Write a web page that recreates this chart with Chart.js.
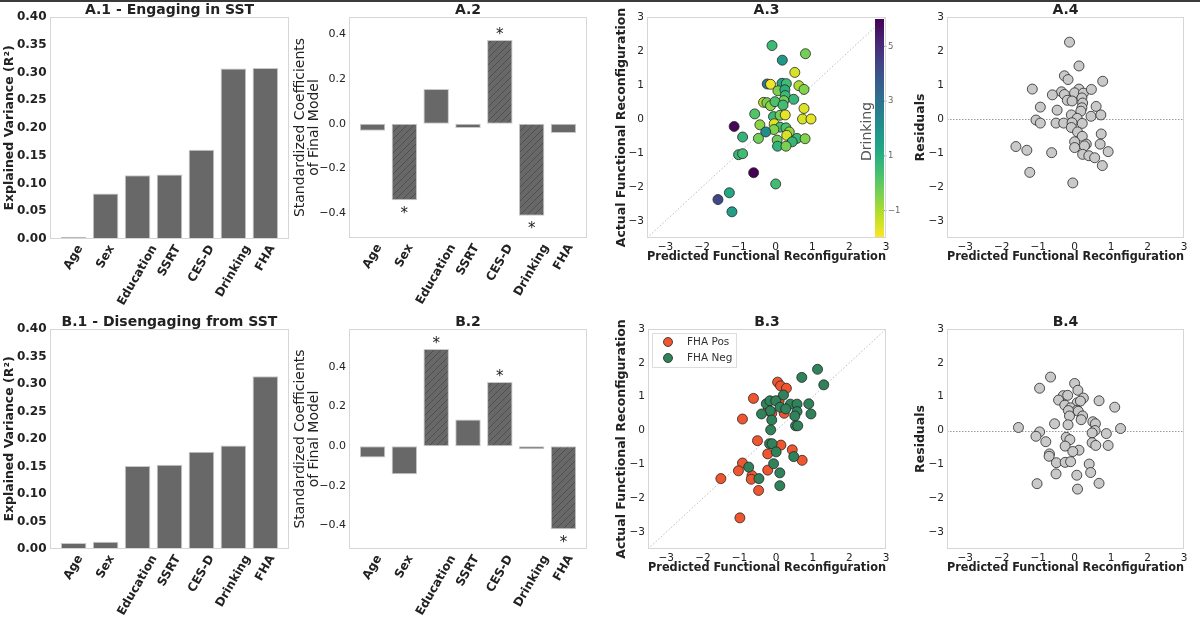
<!DOCTYPE html>
<html>
<head>
<meta charset="utf-8">
<title>Functional reconfiguration models</title>
<script src="https://cdn.jsdelivr.net/npm/chart.js@4.4.1/dist/chart.umd.min.js"></script>
<style>
  html, body { margin: 0; padding: 0; background: #fff; }
  #fig { position: relative; width: 1200px; height: 620px; overflow: hidden; }
  #fig canvas { position: absolute; left: 0; top: 0; }
  #topline { position: absolute; left: 0; top: 0; width: 1200px; height: 2px; background: #3c3c3c; }
</style>
</head>
<body>
<div id="fig">
  <canvas id="a1" width="1200" height="620"></canvas>
  <canvas id="a2" width="1200" height="620"></canvas>
  <canvas id="a3" width="1200" height="620"></canvas>
  <canvas id="a4" width="1200" height="620"></canvas>
  <canvas id="b1" width="1200" height="620"></canvas>
  <canvas id="b2" width="1200" height="620"></canvas>
  <canvas id="b3" width="1200" height="620"></canvas>
  <canvas id="b4" width="1200" height="620"></canvas>
  <div id="topline"></div>
</div>
<script>
// ---- data ----
const predictors = ['Age', 'Sex', 'Education', 'SSRT', 'CES-D', 'Drinking', 'FHA'];

const engageR2    = [0.004, 0.082, 0.115, 0.116, 0.161, 0.307, 0.308];
const disengageR2 = [0.011, 0.013, 0.151, 0.153, 0.177, 0.188, 0.314];

const engageCoef    = [-0.031, -0.343, 0.155, -0.019, 0.375, -0.412, -0.042];
const disengageCoef = [-0.057, -0.141, 0.489, 0.134, 0.323, -0.015, -0.418];
const engageSig     = [false, true, false, false, true, true, false];
const disengageSig  = [false, false, true, false, true, false, true];

const r2Ticks   = [0, 0.05, 0.10, 0.15, 0.20, 0.25, 0.30, 0.35, 0.40];
const coefTicks = [-0.4, -0.2, 0, 0.2, 0.4];
const axisTicks = [-3, -2, -1, 0, 1, 2, 3];
const drinkingTicks = [5, 3, 1, -1];

// A.3 predicted vs actual, coloured by drinking
const engagePred   = [-0.10, 0.81, 0.18, 0.52, -0.23, -0.14, 0.17, 0.29, 0.06, 0.25, 0.63, 0.77, 0.26, 0.49, 0.22, -0.33, -0.24, -0.14, -0.02, 0.20, 0.77, -0.57, -0.06, 0.12, 0.26, 0.73, 0.96, -1.13, -0.04, -0.43, 0.12, 0.28, -0.05, -0.27, 0.37, 0.30, -0.90, -0.47, 0.04, 0.58, 0.80, 0.45, 0.05, 0.28, -1.01, -0.90, -0.60, 0.00, -1.26, -1.57, -1.19];
const engageActual = [2.16, 1.92, 1.73, 1.37, 1.03, 1.02, 1.05, 1.04, 0.83, 0.86, 0.98, 0.87, 0.69, 0.58, 0.54, 0.49, 0.48, 0.39, 0.51, 0.41, 0.31, 0.15, 0.07, 0.11, 0.12, 0.00, 0.00, -0.22, -0.14, -0.17, -0.24, -0.26, -0.31, -0.38, -0.38, -0.48, -0.53, -0.57, -0.62, -0.57, -0.58, -0.67, -0.80, -0.80, -1.05, -1.02, -1.58, -1.91, -2.17, -2.37, -2.73];
const engageDrinking = [0.6, -0.3, 1.8, -1.5, 2.8, -1.8, 1.3, 0.5, -0.4, 1.0, -1.0, -0.5, 0.6, 0.7, -0.3, -1.1, -0.4, -0.6, 0.3, 0.5, -1.6, 0.2, 0.6, -0.3, -1.7, -1.5, -1.7, 5.9, -1.6, -0.6, 0.4, 0.3, -0.5, 2.1, -0.7, -1.5, 0.8, -0.3, -0.2, 0.6, -0.5, 0.7, 0.8, -0.4, 0.7, 0.5, 6.0, 0.5, 1.2, 4.3, 1.6];

// A.4 residuals
const engageResPred = [-0.14, 0.12, -0.28, -0.18, 0.77, -1.16, -0.36, -0.28, 0.12, 0.00, 0.24, 0.46, -0.61, -0.20, -0.07, 0.20, 0.22, -0.94, 0.59, -0.48, 0.20, 0.17, -0.09, 0.07, 0.45, 0.72, -1.06, -0.94, -0.51, -0.30, -0.07, 0.21, -0.09, 0.08, 0.21, 0.73, 0.00, 0.32, 0.70, -1.61, 0.27, 0.00, -1.31, 0.92, -0.63, 0.22, 0.39, 0.55, 0.76, -1.23, -0.05];
const engageResid   = [2.26, 1.56, 1.27, 1.16, 1.11, 0.88, 0.80, 0.72, 0.88, 0.77, 0.76, 0.87, 0.71, 0.55, 0.53, 0.62, 0.47, 0.35, 0.37, 0.26, 0.33, 0.23, 0.12, 0.02, 0.08, 0.12, -0.03, -0.12, -0.12, -0.12, -0.11, -0.13, -0.25, -0.38, -0.51, -0.44, -0.67, -0.74, -0.74, -0.81, -0.79, -0.84, -0.92, -0.96, -0.99, -1.04, -1.08, -1.14, -1.37, -1.57, -1.88];

// B.3 split by family history of alcoholism
const fhaPosPred   = [0.04, 0.12, 0.28, -0.62, 0.08, -0.22, -0.12, 0.22, -0.92, -0.51, 0.13, 0.44, -0.23, 0.71, -0.92, -1.03, -0.23, -0.66, -0.68, -1.51, -0.48, -0.99];
const fhaPosActual = [1.43, 1.32, 1.25, 0.95, 0.88, 0.61, 0.51, 0.51, 0.34, -0.30, -0.43, -0.57, -0.69, -0.88, -0.96, -1.19, -1.17, -1.33, -1.44, -1.42, -1.77, -2.58];
const fhaNegPred   = [1.13, 0.70, 1.30, 0.20, -0.27, -0.17, -0.01, 0.39, 0.57, 0.89, 0.11, 0.26, -0.16, -0.40, 0.57, 0.95, 0.51, -0.12, 0.53, 0.59, -0.15, -0.18, -0.11, 0.00, 0.48, -0.75, -0.07, -0.47, 0.10, 0.10];
const fhaNegActual = [1.81, 1.57, 1.35, 1.05, 0.79, 0.88, 0.88, 0.78, 0.78, 0.79, 0.69, 0.64, 0.58, 0.49, 0.56, 0.49, 0.43, 0.31, 0.14, 0.14, 0.02, -0.39, -0.39, -0.63, -0.77, -1.08, -0.98, -1.42, -1.25, -1.63];

// B.4 residuals
const disResPred = [-0.66, 0.00, -0.96, 0.09, -0.31, -0.19, 0.24, -0.44, 0.67, 0.07, 0.16, -0.27, 1.10, -0.11, 0.07, -0.17, 0.10, 0.22, -0.14, 0.18, 0.50, -0.55, 0.57, -0.18, -1.54, 1.26, -0.96, 0.56, 0.48, -1.06, 0.87, -0.23, -0.13, -0.79, 0.48, 0.58, 0.92, -0.26, 0.12, -0.05, -0.69, -0.70, -0.50, -0.26, -0.11, 0.40, 0.44, -0.51, 0.06, -1.03, 0.67, 0.08];
const disResid   = [1.58, 1.39, 1.25, 1.19, 1.03, 1.04, 0.96, 0.90, 0.88, 0.82, 0.87, 0.75, 0.69, 0.67, 0.60, 0.59, 0.57, 0.43, 0.43, 0.32, 0.26, 0.20, 0.20, 0.17, 0.09, 0.06, -0.04, 0.00, -0.07, -0.17, -0.09, -0.20, -0.27, -0.33, -0.36, -0.44, -0.44, -0.46, -0.58, -0.62, -0.69, -0.76, -0.95, -0.94, -0.92, -0.99, -1.24, -1.28, -1.32, -1.57, -1.56, -1.73];

// ---- style ----
const W = 1200, H = 620;
const TXT = '#222';
const BAR = '#686868';
const POS = '#ef5630';
const NEG = '#2f8259';
const cbMin = -2, cbMax = 6;

Chart.defaults.font.family = "'DejaVu Sans', sans-serif";
Chart.defaults.color = TXT;
Chart.defaults.animation = false;
Chart.defaults.plugins.legend.display = false;
Chart.defaults.plugins.tooltip.enabled = false;

const fmt = (v, d) => (v < 0 ? '\u2212' : '') + Math.abs(v).toFixed(d);
const pts = (xs, ys) => xs.map((x, i) => ({ x: x, y: ys[i] }));

// viridis, sampled
const viridisStops = ['#440154', '#482475', '#414487', '#355f8d', '#2a788e', '#21918c', '#22a884', '#44bf70', '#7ad151', '#bddf26', '#fde725'];
function viridis(t) {
  t = Math.min(1, Math.max(0, t));
  const f = t * (viridisStops.length - 1), i = Math.min(Math.floor(f), viridisStops.length - 2), k = f - i;
  const a = viridisStops[i], b = viridisStops[i + 1];
  const ch = (s, o) => parseInt(s.substr(o, 2), 16);
  const c = [1, 3, 5].map(o => Math.round(ch(a, o) + (ch(b, o) - ch(a, o)) * k));
  return 'rgb(' + c.join(',') + ')';
}
const drinkColor = v => viridis((cbMax - v) / (cbMax - cbMin));

// axes boxes in page pixels
const box = {
  a1: { l: 50, t: 17, r: 289, b: 239 },
  a2: { l: 349, t: 17, r: 587, b: 238 },
  a3: { l: 647, t: 17, r: 886, b: 238 },
  a4: { l: 947, t: 17, r: 1184, b: 238 },
  b1: { l: 50, t: 329, r: 289, b: 549 },
  b2: { l: 349, t: 329, r: 587, b: 549 },
  b3: { l: 648, t: 329, r: 886, b: 549 },
  b4: { l: 947, t: 329, r: 1184, b: 549 }
};

function hatchPattern(ctx) {
  const c = document.createElement('canvas');
  c.width = c.height = 7;
  const g = c.getContext('2d');
  g.fillStyle = BAR;
  g.fillRect(0, 0, 7, 7);
  g.strokeStyle = '#4f4f4f';
  g.lineWidth = 1;
  g.beginPath();
  for (const o of [-7, 0, 7]) { g.moveTo(o, 7); g.lineTo(o + 7, 0); }
  g.stroke();
  return ctx.createPattern(c, 'repeat');
}

// titles, frame, rotated labels, stars, ref lines, colorbar, legend
function deco(o) {
  return {
    id: 'deco',
    beforeDatasetsDraw(chart) {
      const { ctx, chartArea: ca, scales: { x, y } } = chart;
      ctx.save();
      if (o.identity) {
        const lo = Math.max(x.min, y.min), hi = Math.min(x.max, y.max);
        ctx.strokeStyle = '#b5b5b5';
        ctx.lineWidth = 0.9;
        ctx.setLineDash([1.5, 2]);
        ctx.beginPath();
        ctx.moveTo(x.getPixelForValue(lo), y.getPixelForValue(lo));
        ctx.lineTo(x.getPixelForValue(hi), y.getPixelForValue(hi));
        ctx.stroke();
      }
      if (o.zeroLine) {
        const py = Math.round(y.getPixelForValue(0)) + 0.5;
        ctx.strokeStyle = '#9a9a9a';
        ctx.lineWidth = 1;
        ctx.setLineDash([1.5, 1.5]);
        ctx.beginPath();
        ctx.moveTo(ca.left, py);
        ctx.lineTo(ca.right, py);
        ctx.stroke();
      }
      ctx.restore();
    },
    afterDatasetsDraw(chart) {
      const { ctx, chartArea: ca, scales: { x, y } } = chart;
      ctx.save();
      if (o.stars) {
        ctx.font = "15px 'DejaVu Sans'";
        ctx.fillStyle = TXT;
        ctx.textAlign = 'center';
        ctx.textBaseline = 'alphabetic';
        chart.data.datasets[0].data.forEach((p, i) => {
          if (!o.stars[i]) return;
          const px = x.getPixelForValue(p.x), py = y.getPixelForValue(p.y);
          const cy = p.y >= 0 ? py - 9.3 : py + 9.3;
          ctx.fillText('*', px, cy + 8.4);
        });
      }
      if (o.colorbar) {
        const cb = o.colorbar;
        const x0 = ca.right - 11, x1 = ca.right - 2, y0 = ca.top + 2, y1 = ca.bottom;
        const grad = ctx.createLinearGradient(0, y0, 0, y1);
        for (let i = 0; i <= 20; i++) grad.addColorStop(i / 20, viridis(i / 20));
        ctx.fillStyle = grad;
        ctx.fillRect(x0, y0, x1 - x0, y1 - y0);
        ctx.strokeStyle = '#777';
        ctx.fillStyle = '#666';
        ctx.lineWidth = 0.8;
        ctx.font = "8.5px 'DejaVu Sans'";
        ctx.textAlign = 'left';
        ctx.textBaseline = 'middle';
        cb.ticks.forEach(v => {
          const py = y0 + (cb.max - v) / (cb.max - cb.min) * (y1 - y0);
          ctx.beginPath();
          ctx.moveTo(x1, py);
          ctx.lineTo(x1 + 2.5, py);
          ctx.stroke();
          ctx.fillText(fmt(v, 0), x1 + 4, py);
        });
        ctx.save();
        ctx.translate(x0 - 8, (y0 + y1) / 2 + 3);
        ctx.rotate(-Math.PI / 2);
        ctx.fillStyle = '#555';
        ctx.font = "14px 'DejaVu Sans'";
        ctx.textAlign = 'center';
        ctx.textBaseline = 'middle';
        ctx.fillText(cb.label, 0, 0);
        ctx.restore();
      }
      if (o.legend) {
        const bx = ca.left + 4, by = ca.top + 4;
        ctx.fillStyle = 'rgba(255,255,255,0.85)';
        ctx.fillRect(bx, by, 84, 34);
        ctx.strokeStyle = '#dddddd';
        ctx.lineWidth = 1;
        ctx.strokeRect(bx + 0.5, by + 0.5, 84, 34);
        ctx.font = "10.5px 'DejaVu Sans'";
        ctx.textAlign = 'left';
        ctx.textBaseline = 'middle';
        chart.data.datasets.forEach((ds, i) => {
          const my = by + 9 + i * 16;
          ctx.beginPath();
          ctx.arc(bx + 16, my, 4.5, 0, Math.PI * 2);
          ctx.fillStyle = ds.backgroundColor;
          ctx.fill();
          ctx.strokeStyle = '#262626';
          ctx.lineWidth = 0.8;
          ctx.stroke();
          ctx.fillStyle = '#333';
          ctx.fillText(ds.label, bx + 35, my);
        });
      }
      // axes frame
      ctx.strokeStyle = '#d6d6d6';
      ctx.lineWidth = 1;
      ctx.strokeRect(Math.round(ca.left) + 0.5, Math.round(ca.top) + 0.5, Math.round(ca.width) - 1, Math.round(ca.height) - 1);
      ctx.restore();
    },
    afterDraw(chart) {
      const { ctx, chartArea: ca, scales: { x } } = chart;
      ctx.save();
      ctx.fillStyle = TXT;
      ctx.font = "bold 14px 'DejaVu Sans'";
      ctx.textAlign = 'center';
      ctx.textBaseline = 'alphabetic';
      ctx.fillText(o.title, (ca.left + ca.right) / 2, ca.top - 3);
      if (o.cats) {
        const ang = Math.PI / 3;
        ctx.font = "bold 12px 'DejaVu Sans'";
        ctx.textBaseline = 'middle';
        o.cats.forEach((lab, i) => {
          const L = ctx.measureText(lab).width;
          const bh = L * Math.sin(ang) + 9 * Math.cos(ang);
          ctx.save();
          ctx.translate(x.getPixelForValue(i), ca.bottom + o.labelPad + bh / 2);
          ctx.rotate(-ang);
          ctx.fillText(lab, 0, 0);
          ctx.restore();
        });
      }
      ctx.restore();
    }
  };
}

function barChart(id, b, values, sig, y, title) {
  const ctx = document.getElementById(id).getContext('2d');
  const pat = sig ? hatchPattern(ctx) : null;
  return new Chart(ctx, {
    type: 'bar',
    data: {
      datasets: [{
        data: values.map((v, i) => ({ x: i, y: v })),
        backgroundColor: values.map((v, i) => (sig && sig[i] ? pat : BAR)),
        borderColor: '#c8c8c8',
        borderWidth: 1,
        borderSkipped: false,
        barPercentage: 0.8,
        categoryPercentage: 1
      }]
    },
    options: {
      responsive: false,
      layout: { padding: { left: b.l - y.yw, top: b.t, right: W - b.r, bottom: H - b.b } },
      scales: {
        x: {
          type: 'linear', min: -0.74, max: 6.74, offset: false,
          grid: { display: false, drawTicks: false }, border: { display: false },
          ticks: { display: false },
          afterFit: s => { s.height = 0; }
        },
        y: {
          type: 'linear', min: y.min, max: y.max,
          grid: { display: false, drawTicks: false }, border: { display: false },
          afterBuildTicks: s => { s.ticks = y.ticks.map(v => ({ value: v })); },
          afterFit: s => { s.width = y.yw; },
          ticks: { padding: y.pad, font: y.tickFont, color: TXT, autoSkip: false, callback: v => fmt(v, y.dec) },
          title: { display: true, text: y.title, font: y.titleFont, padding: 0, color: TXT }
        }
      }
    },
    plugins: [deco({ title: title, cats: predictors, stars: sig, labelPad: 5 })]
  });
}

function scatterChart(id, b, datasets, yTitle, yw, xh, extra) {
  return new Chart(document.getElementById(id), {
    type: 'scatter',
    data: { datasets: datasets },
    options: {
      responsive: false,
      layout: { padding: { left: b.l - yw, top: b.t, right: W - b.r, bottom: H - b.b - xh } },
      elements: { point: { radius: 5, hoverRadius: 5, borderWidth: 0.8, borderColor: '#262626' } },
      scales: {
        x: {
          type: 'linear', min: -3.5, max: 3,
          grid: { display: false, drawTicks: false }, border: { display: false },
          afterBuildTicks: s => { s.ticks = axisTicks.map(v => ({ value: v })); },
          afterFit: s => { s.height = xh; },
          ticks: { padding: 3, font: { size: 10.5 }, color: TXT, maxRotation: 0, autoSkip: false, callback: v => fmt(v, 0) },
          title: { display: true, text: 'Predicted Functional Reconfiguration', font: { size: 12.5, weight: 'bold' }, padding: 0, color: TXT }
        },
        y: {
          type: 'linear', min: -3.5, max: 3,
          grid: { display: false, drawTicks: false }, border: { display: false },
          afterBuildTicks: s => { s.ticks = axisTicks.map(v => ({ value: v })); },
          afterFit: s => { s.width = yw; },
          ticks: { padding: 3, font: { size: 10.5 }, color: TXT, autoSkip: false, callback: v => fmt(v, 0) },
          title: { display: true, text: yTitle, font: { size: 12.5, weight: 'bold' }, padding: 0, color: TXT }
        }
      }
    },
    plugins: [deco(extra)]
  });
}

const r2Axis = {
  min: 0, max: 0.4, ticks: r2Ticks, dec: 2, yw: 47.5, pad: 3.5,
  tickFont: { size: 12, weight: 'bold' },
  title: 'Explained Variance (R\u00b2)', titleFont: { size: 12.5, weight: 'bold' }
};
const coefAxis = (min, max) => ({
  min: min, max: max, ticks: coefTicks, dec: 1, yw: 56, pad: 3,
  tickFont: { size: 11 },
  title: ['Standardized Coefficients', 'of Final Model'], titleFont: { size: 14, lineHeight: 1.0 }
});

barChart('a1', box.a1, engageR2, null, r2Axis, 'A.1 - Engaging in SST');
barChart('a2', box.a2, engageCoef, engageSig, coefAxis(-0.512, 0.478), 'A.2');
barChart('b1', box.b1, disengageR2, null, r2Axis, 'B.1 - Disengaging from SST');
barChart('b2', box.b2, disengageCoef, disengageSig, coefAxis(-0.518, 0.59), 'B.2');

scatterChart('a3', box.a3, [{
  data: pts(engagePred, engageActual),
  pointBackgroundColor: engageDrinking.map(drinkColor)
}], 'Actual Functional Reconfiguration', 32.5, 26.5,
  { title: 'A.3', identity: true, colorbar: { min: cbMin, max: cbMax, ticks: drinkingTicks, label: 'Drinking' } });

scatterChart('a4', box.a4, [{
  data: pts(engageResPred, engageResid),
  pointBackgroundColor: '#c9c9c9'
}], 'Residuals', 33.5, 26.5, { title: 'A.4', zeroLine: true });

scatterChart('b3', box.b3, [
  { label: 'FHA Pos', data: pts(fhaPosPred, fhaPosActual), backgroundColor: POS, pointBackgroundColor: POS, order: 1 },
  { label: 'FHA Neg', data: pts(fhaNegPred, fhaNegActual), backgroundColor: NEG, pointBackgroundColor: NEG, order: 0 }
], 'Actual Functional Reconfiguration', 33.5, 25.8, { title: 'B.3', identity: true, legend: true });

scatterChart('b4', box.b4, [{
  data: pts(disResPred, disResid),
  pointBackgroundColor: '#c9c9c9'
}], 'Residuals', 33.5, 26.5, { title: 'B.4', zeroLine: true });
</script>
</body>
</html>
